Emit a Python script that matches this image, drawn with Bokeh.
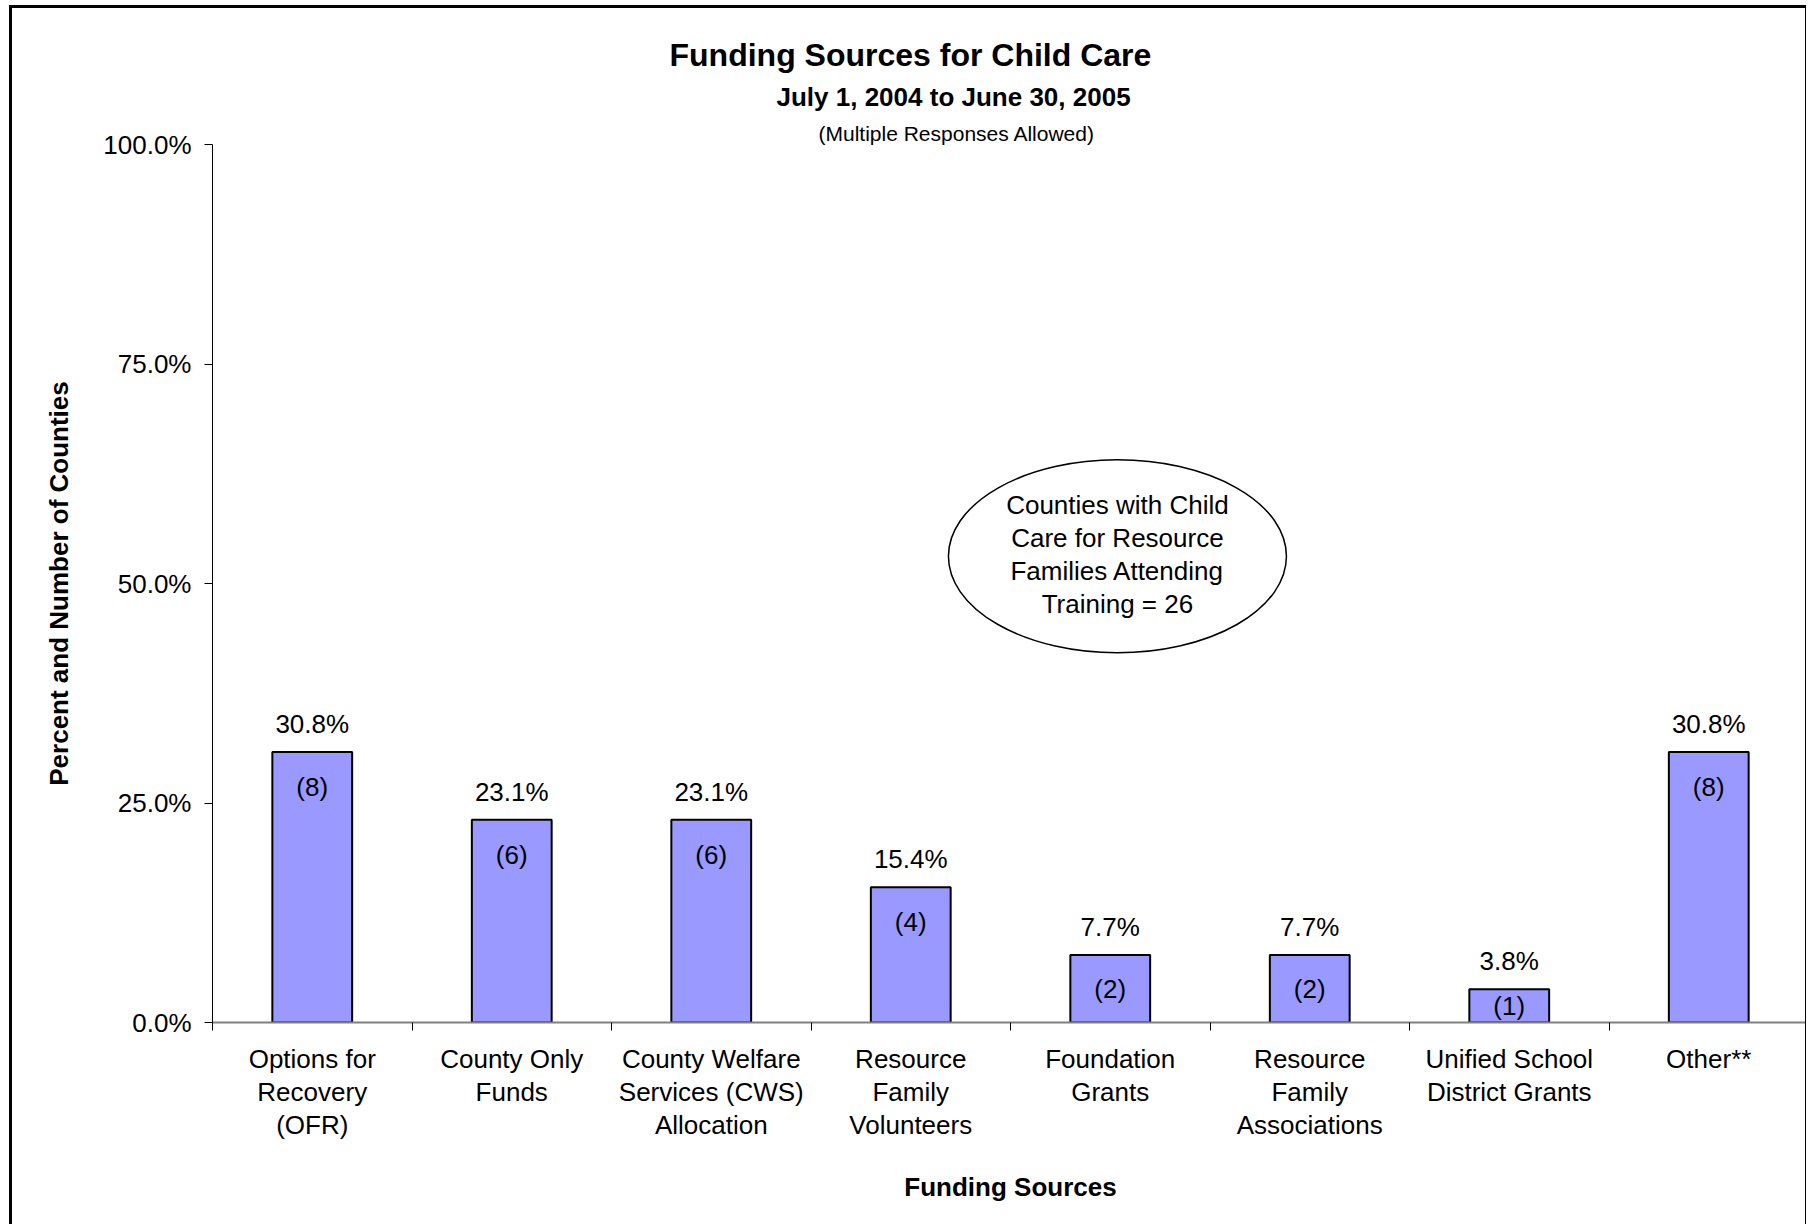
from bokeh.plotting import figure
from bokeh.models import (FixedTicker, Title, Range1d,
                          ColumnDataSource, PrintfTickFormatter)
from bokeh.embed import file_html
from bokeh.resources import INLINE
from bokeh.core.properties import value

# ---------------- data ----------------
categories = ["Options for Recovery (OFR)", "County Only Funds",
              "County Welfare Services (CWS) Allocation",
              "Resource Family Volunteers", "Foundation Grants",
              "Resource Family Associations", "Unified School District Grants",
              "Other**"]
tick_labels = ["Options for\nRecovery\n(OFR)", "County Only\nFunds",
               "County Welfare\nServices (CWS)\nAllocation",
               "Resource\nFamily\nVolunteers", "Foundation\nGrants",
               "Resource\nFamily\nAssociations", "Unified School\nDistrict Grants",
               "Other**"]
percents = [30.8, 23.1, 23.1, 15.4, 7.7, 7.7, 3.8, 30.8]
counts = [8, 6, 6, 4, 2, 2, 1, 8]
y_ticks = [0, 25, 50, 75, 100]
total_counties = 26

title_text = "Funding Sources for Child Care"
subtitle_text = "July 1, 2004 to June 30, 2005"
note_text = "(Multiple Responses Allowed)"
callout_text = ("Counties with Child\nCare for Resource\nFamilies Attending\n"
                f"Training = {total_counties}")

FONT = "Liberation Sans"
n = len(categories)
xs = [i + 0.5 for i in range(n)]

src = ColumnDataSource(dict(
    x=xs, cat=categories, pct=percents, cnt=counts,
    pct_label=[f"{v:.1f}%" for v in percents],
    cnt_label=[f"({c})" for c in counts],
    cnt_y=[max(v - 4.0, v / 2) for v in percents],
))

p = figure(width=1797, height=1219, x_range=Range1d(0, n), y_range=Range1d(0, 100),
           output_backend="svg", toolbar_location=None, title=None,
           min_border_left=200, min_border_right=1, min_border_top=136,
           min_border_bottom=205)
p.styles = {"margin-left": "9px", "margin-top": "5px",
            "border-left": "3px solid black", "border-top": "3px solid black",
            "border-right": "1px solid black"}
p.background_fill_color = "white"
p.border_fill_color = "white"
p.outline_line_color = None
p.xgrid.visible = False
p.ygrid.visible = False

# bars
p.vbar(x="x", top="pct", bottom=0, width=0.4, source=src,
       fill_color="#9999FF", line_color="black", line_width=2)

# labels
p.text(x="x", y="pct", text="pct_label", source=src, y_offset=-28,
       text_align="center", text_baseline="middle",
       text_font=value(FONT), text_font_size="26px", text_color="black")
p.text(x="x", y="cnt_y", text="cnt_label", source=src,
       text_align="center", text_baseline="middle",
       text_font=value(FONT), text_font_size="26px", text_color="black")

# callout ellipse
p.ellipse(x=[4.536], y=[53.1], width=338, height=193,
          width_units="screen", height_units="screen",
          fill_color="white", line_color="black", line_width=1.5)
p.text(x=[4.536], y=[53.1], text=[callout_text], text_align="center",
       text_baseline="middle", text_line_height=1.1, y_offset=-2,
       text_font=value(FONT), text_font_size="26px", text_color="black")

# y axis
ya = p.yaxis[0]
ya.ticker = FixedTicker(ticks=y_ticks)
ya.formatter = PrintfTickFormatter(format="%.1f%%")
ya.major_tick_out = 8
ya.major_tick_in = 0
ya.minor_tick_out = 0
ya.minor_tick_in = 0
ya.axis_line_color = "black"
ya.major_tick_line_color = "black"
ya.major_label_standoff = 13
ya.major_label_text_font = FONT
ya.major_label_text_font_size = "26px"
ya.major_label_text_color = "black"
ya.axis_label = "Percent and Number of Counties"
ya.axis_label_text_font = FONT
ya.axis_label_text_font_size = "26px"
ya.axis_label_text_font_style = "bold"
ya.axis_label_text_color = "black"
ya.axis_label_standoff = 26

# x axis
xa = p.xaxis[0]
xa.ticker = FixedTicker(ticks=xs, minor_ticks=list(range(n + 1)))
xa.major_label_overrides = {x: lab for x, lab in zip(xs, tick_labels)}
xa.major_tick_out = 0
xa.major_tick_in = 0
xa.minor_tick_out = 8
xa.minor_tick_in = 0
xa.minor_tick_line_color = "black"
xa.axis_line_color = "#808080"
xa.axis_line_width = 2
xa.major_label_standoff = 13
xa.major_label_text_font = FONT
xa.major_label_text_font_size = "26px"
xa.major_label_text_line_height = 1.1
xa.major_label_text_color = "black"
xa.axis_label = "Funding Sources"
xa.axis_label_text_font = FONT
xa.axis_label_text_font_size = "26px"
xa.axis_label_text_font_style = "bold"
xa.axis_label_text_color = "black"
xa.axis_label_standoff = 29

# titles (added nearest-to-frame first)
for txt, off, stand, size, style in [
        (note_text, 606, 0, "21px", "normal"),
        (subtitle_text, 564, 16, "26px", "bold"),
        (title_text, 457, -3, "32px", "bold")]:
    p.add_layout(Title(text=txt, align="left", offset=off, standoff=stand,
                       text_font=FONT, text_font_size=size,
                       text_font_style=style, text_color="black"), "above")

open("out.html", "w").write(file_html(p, INLINE))
